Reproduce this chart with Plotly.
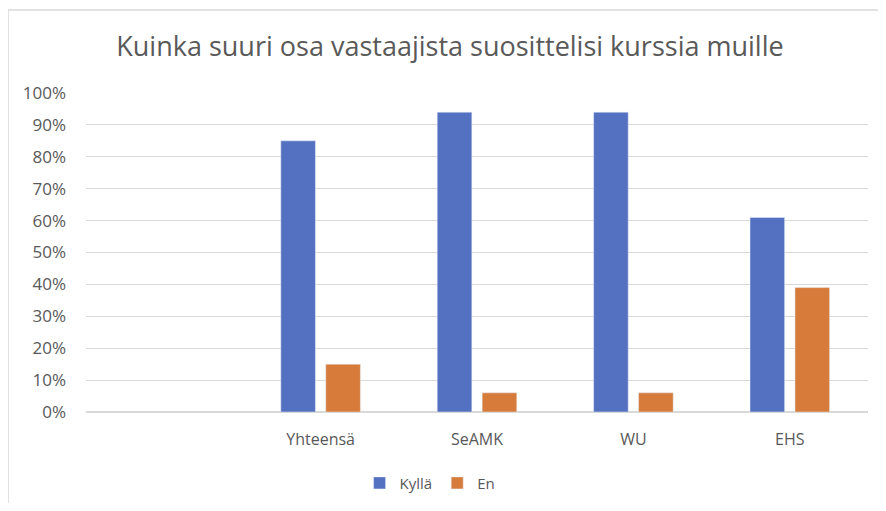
import plotly.graph_objects as go

categories = ["", "Yhteensä", "SeAMK", "WU", "EHS"]
kylla = [None, 0.85, 0.94, 0.94, 0.61]
en = [None, 0.15, 0.06, 0.06, 0.39]
tick_vals = [0, 0.1, 0.2, 0.3, 0.4, 0.5, 0.6, 0.7, 0.8, 0.9, 1.0]
tick_text = ["0%", "10%", "20%", "30%", "40%", "50%", "60%", "70%", "80%", "90%", "100%"]

x_idx = list(range(len(categories)))

fig = go.Figure()
fig.add_trace(go.Bar(name="Kyllä", x=x_idx, y=kylla, marker=dict(color="#5470C1")))
fig.add_trace(go.Bar(name="En", x=x_idx, y=en, marker=dict(color="#D67B3A")))

# page body has an 8px margin; figure sized to fit the 886x511 window
W, H = 870, 495
L, T, PW, PH = 78, 85, 782, 319
font = "Open Sans"
fig.update_layout(
    width=W, height=H,
    margin=dict(l=L, r=W - L - PW, t=T, b=H - T - PH, autoexpand=False),
    paper_bgcolor="white", plot_bgcolor="white",
    barmode="group", bargap=0.425, bargroupgap=0.23,
    title=dict(text="Kuinka suuri osa vastaajista suosittelisi kurssia muille",
               x=0.508, xanchor="center", y=1 - 39 / H, yanchor="middle",
               font=dict(family=font, size=27, color="#595959")),
    font=dict(family=font, color="#595959"),
    showlegend=True,
    legend=dict(orientation="h", x=0.44, xanchor="center", y=-0.223, yanchor="middle",
                font=dict(size=15, color="#595959"), itemwidth=30),
    xaxis=dict(tickmode="array", tickvals=x_idx, ticktext=categories, range=[-0.5, 4.5],
               showgrid=False, showline=False, zeroline=False, ticks="",
               tickfont=dict(size=16, color="#595959"), ticklabelstandoff=16),
    yaxis=dict(range=[0, 1.0], tickmode="array", tickvals=tick_vals, ticktext=tick_text,
               showgrid=True, gridcolor="#D9D9D9", gridwidth=1, zeroline=True,
               zerolinecolor="#D9D9D9", showline=False, ticks="",
               tickfont=dict(size=17, color="#595959"), ticklabelstandoff=19),
    shapes=[dict(type="rect", xref="paper", yref="paper",
                 x0=(0 - L) / PW, x1=1.2, y0=-0.6, y1=1 + (T - 2) / PH,
                 line=dict(color="#D9D9D9", width=1.5), fillcolor="rgba(0,0,0,0)", layer="below")],
)

fig.write_html("out.html")
